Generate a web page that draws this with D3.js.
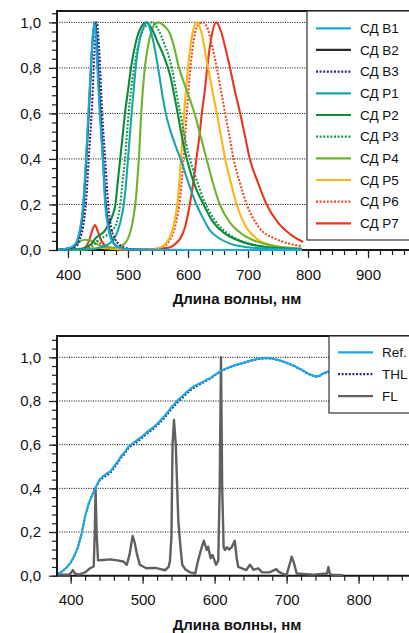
<!DOCTYPE html>
<html>
<head>
<meta charset="utf-8">
<script src="https://cdn.jsdelivr.net/npm/d3@7"></script>
<style>
  body { margin: 0; background: #fff; }
  svg { display: block; font-family: "Liberation Sans", Arial, sans-serif; }
</style>
</head>
<body>
<div id="chart"></div>
<script>
// ---- data: LED spectra (top panel), [wavelength nm, relative intensity]
const ledNames = ["СД В1", "СД В2", "СД В3", "СД Р1", "СД Р2", "СД Р3", "СД Р4", "СД Р5", "СД Р6", "СД Р7"];
const ledColors = ["#1BA9E1", "#2b2b2b", "#2E2A7A", "#1AA6A8", "#0E8A3E", "#129A4A", "#6DB32F", "#FDB515", "#EE4A26", "#E8371E"];
const ledDotted = [false, false, true, false, false, true, false, false, true, false];

const ledB1 = [[380,0],[400,0.008],[410,0.02],[415,0.04],[420,0.09],[425,0.19],[430,0.4],[434,0.6],[438,0.8],[441,0.93],[444,1.0],[447,0.92],[449,0.8],[453,0.6],[458,0.4],[462,0.2],[467,0.1],[473,0.04],[480,0.02],[490,0.008],[500,0.003],[520,0.001],[600,0],[790,0]];
const ledB2 = [[380,0],[400,0.006],[410,0.018],[415,0.035],[420,0.08],[425,0.17],[430,0.37],[435,0.62],[439,0.83],[442,0.95],[445,1.0],[448,0.92],[450,0.8],[454,0.6],[458,0.42],[463,0.2],[468,0.1],[474,0.04],[480,0.02],[490,0.008],[500,0.003],[520,0.001],[600,0],[790,0]];
const ledB3 = [[380,0],[400,0.005],[415,0.02],[420,0.05],[425,0.1],[430,0.21],[435,0.42],[440,0.63],[444,0.86],[448,1.0],[452,0.88],[457,0.6],[462,0.4],[467,0.2],[472,0.1],[478,0.05],[485,0.025],[495,0.01],[510,0.003],[530,0],[790,0]];
const ledP1 = [[380,0],[440,0.003],[455,0.012],[465,0.022],[472,0.035],[480,0.065],[487,0.12],[493,0.2],[497,0.3],[500,0.4],[503,0.5],[506,0.6],[510,0.72],[514,0.83],[520,0.93],[526,0.98],[532,1.0],[538,0.96],[545,0.88],[552,0.77],[558,0.67],[563,0.6],[570,0.53],[579,0.46],[589,0.39],[600,0.3],[614,0.2],[625,0.14],[637,0.085],[650,0.055],[670,0.028],[700,0.012],[740,0.005],[790,0.002]];
const ledP2 = [[380,0],[420,0.004],[430,0.012],[440,0.03],[447,0.055],[453,0.066],[460,0.08],[467,0.11],[474,0.15],[479,0.2],[483,0.3],[487,0.4],[491,0.5],[495,0.6],[500,0.7],[505,0.8],[512,0.9],[520,0.97],[531,1.0],[540,0.97],[550,0.91],[560,0.85],[570,0.77],[580,0.64],[592,0.47],[600,0.38],[612,0.28],[626,0.2],[640,0.13],[660,0.075],[681,0.045],[700,0.028],[730,0.013],[760,0.006],[790,0.003]];
const ledP3 = [[380,0],[430,0.005],[440,0.015],[450,0.04],[460,0.058],[468,0.07],[475,0.09],[481,0.12],[487,0.2],[491,0.3],[495,0.4],[498,0.5],[501,0.6],[505,0.7],[510,0.8],[518,0.91],[528,0.98],[540,1.0],[550,0.97],[560,0.91],[573,0.8],[580,0.7],[587,0.6],[600,0.43],[614,0.31],[628,0.21],[645,0.13],[665,0.075],[690,0.038],[720,0.017],[760,0.007],[790,0.004]];
const ledP4 = [[380,0],[400,0.005],[412,0.02],[420,0.038],[428,0.045],[436,0.043],[445,0.03],[455,0.018],[465,0.012],[475,0.01],[485,0.014],[493,0.025],[500,0.05],[506,0.1],[510,0.16],[513,0.22],[516,0.32],[519,0.44],[522,0.6],[528,0.8],[536,0.93],[544,0.99],[551,1.0],[560,0.985],[570,0.95],[577,0.89],[584,0.81],[598,0.7],[612,0.59],[621,0.5],[631,0.4],[641,0.3],[653,0.2],[670,0.12],[690,0.07],[710,0.042],[730,0.025],[760,0.012],[790,0.006]];
const ledP5 = [[380,0],[430,0.004],[450,0.01],[470,0.006],[500,0.002],[540,0.003],[555,0.012],[565,0.035],[572,0.07],[578,0.13],[583,0.22],[587,0.35],[591,0.5],[595,0.65],[600,0.8],[606,0.93],[614,1.0],[622,0.96],[632,0.82],[640,0.71],[648,0.6],[655,0.5],[662,0.4],[671,0.3],[681,0.2],[695,0.11],[714,0.05],[740,0.02],[770,0.008],[790,0.004]];
const ledP6 = [[380,0],[430,0.005],[440,0.025],[448,0.04],[456,0.025],[470,0.008],[500,0.002],[540,0.002],[555,0.01],[570,0.045],[580,0.12],[587,0.23],[592,0.38],[598,0.6],[604,0.8],[610,0.93],[617,0.99],[625,1.0],[633,0.97],[640,0.9],[648,0.8],[655,0.7],[662,0.6],[669,0.5],[676,0.4],[686,0.3],[698,0.2],[718,0.1],[745,0.05],[770,0.027],[790,0.017]];
const ledP7 = [[380,0],[425,0.005],[435,0.04],[441,0.09],[445,0.11],[450,0.08],[456,0.04],[465,0.015],[480,0.005],[520,0.002],[550,0.005],[570,0.012],[580,0.03],[587,0.05],[595,0.1],[603,0.2],[609,0.3],[614,0.4],[619,0.5],[623,0.6],[628,0.7],[632,0.8],[638,0.92],[647,1.0],[655,0.96],[663,0.88],[670,0.8],[678,0.7],[687,0.6],[695,0.5],[703,0.4],[716,0.3],[731,0.2],[750,0.12],[770,0.07],[792,0.035]];
const ledSpectra = [ledB1, ledB2, ledB3, ledP1, ledP2, ledP3, ledP4, ledP5, ledP6, ledP7];

// ---- data: light sources (bottom panel)
const lampNames = ["Ref.", "THL", "FL"];
const lampColors = ["#1BA9E1", "#2E2A7A", "#606060"];
const lampDotted = [false, true, false];

const lampRef = [[381,0.01],[385,0.012],[390,0.025],[395,0.04],[400,0.06],[405,0.09],[410,0.13],[415,0.19],[420,0.27],[425,0.33],[430,0.37],[434,0.4],[440,0.44],[445,0.455],[450,0.468],[455,0.478],[460,0.5],[465,0.522],[470,0.548],[475,0.565],[480,0.59],[485,0.603],[490,0.615],[495,0.628],[500,0.64],[505,0.655],[510,0.668],[515,0.68],[520,0.695],[525,0.712],[530,0.73],[535,0.75],[540,0.772],[545,0.79],[550,0.808],[555,0.822],[560,0.838],[565,0.852],[570,0.865],[575,0.874],[580,0.882],[585,0.89],[590,0.9],[595,0.907],[600,0.92],[605,0.93],[610,0.94],[620,0.955],[630,0.966],[640,0.975],[650,0.985],[660,0.993],[670,0.997],[680,0.995],[690,0.987],[700,0.975],[710,0.962],[720,0.945],[730,0.925],[740,0.913],[745,0.915],[750,0.925],[757,0.935],[765,0.93],[775,0.935],[790,0.93]];
const lampTHL = [[381,0.01],[385,0.012],[390,0.025],[395,0.04],[400,0.06],[405,0.09],[410,0.13],[415,0.19],[420,0.27],[425,0.33],[430,0.37],[434,0.4],[440,0.435],[445,0.448],[450,0.46],[455,0.47],[460,0.492],[465,0.515],[470,0.54],[475,0.558],[480,0.583],[485,0.597],[490,0.608],[495,0.62],[500,0.633],[505,0.648],[510,0.66],[515,0.673],[520,0.688],[525,0.704],[530,0.722],[535,0.742],[540,0.763],[545,0.781],[550,0.799],[555,0.814],[560,0.83],[565,0.845],[570,0.858],[575,0.868],[580,0.877],[585,0.886],[590,0.896],[595,0.904],[600,0.917],[605,0.928],[610,0.938],[620,0.953],[630,0.965],[640,0.974],[650,0.984],[660,0.992],[670,0.996],[680,0.994],[690,0.986],[700,0.974],[710,0.96],[720,0.943],[730,0.923],[740,0.911],[745,0.913],[750,0.923],[757,0.933],[765,0.929],[775,0.933],[790,0.929]];
const lampFL = [[381,0.005],[398,0.005],[401,0.015],[403,0.026],[406,0.01],[411,0.005],[420,0.015],[427,0.034],[432,0.042],[433.5,0.2],[434.6,0.4],[436,0.2],[438,0.07],[445,0.072],[455,0.075],[465,0.07],[473,0.065],[478,0.05],[482,0.1],[486,0.182],[489,0.15],[492,0.1],[496,0.05],[505,0.034],[512,0.035],[519,0.035],[525,0.03],[531,0.025],[536,0.04],[538,0.07],[540,0.18],[541.5,0.6],[543.5,0.713],[546,0.6],[549.5,0.255],[552,0.15],[555,0.05],[559,0.03],[566,0.015],[573,0.01],[577,0.07],[582,0.13],[585,0.16],[589,0.118],[591,0.133],[594.4,0.08],[597,0.095],[602,0.05],[605,0.07],[607,0.4],[608.8,1.0],[610.5,0.4],[612.5,0.13],[614.3,0.118],[617,0.13],[620,0.12],[623.6,0.13],[628,0.16],[630.6,0.08],[632.8,0.04],[644,0.026],[649,0.05],[654,0.027],[660.6,0.034],[666,0.015],[676,0.015],[686,0.03],[688,0.02],[695,0.008],[700,0.004],[704,0.05],[707,0.087],[710,0.06],[714,0.01],[737,0.005],[756,0.01],[758,0.04],[760,0.01],[762,0.005],[778.6,0.002]];
const lampSpectra = [lampRef, lampTHL, lampFL];

// ---- ticks
const topXMajor = [400, 500, 600, 700, 800, 900];
const bottomXMajor = [400, 500, 600, 700, 800];
const yMajor = [0, 0.2, 0.4, 0.6, 0.8, 1.0];
const xTitle = "Длина волны, нм";

const locale = d3.formatLocale({ decimal: ",", thousands: "\u00a0", grouping: [3], currency: ["", ""] });
const formatY = locale.format(".1f");

const W = 409, H = 633;
const svg = d3.select("#chart").append("svg").attr("width", W).attr("height", H);

renderSpectrumChart(svg.append("g"), {
  id: "top",
  left: 57, right: 409, top: 11, bottom: 250,
  xDomain: [381.7, 968.3], yDomain: [0, 1.05],
  xMajor: topXMajor, xMinor: d3.range(400, 961, 20), yMinor: d3.range(0, 1.05, 0.04),
  series: ledSpectra, names: ledNames, colors: ledColors, dotted: ledDotted,
  widths: ledNames.map(() => 2.1),
  curve: d3.curveMonotoneX,
  legend: { x: 307, y: 11, h: 229, rowY: 28.3, rowStep: 21.67, lineX: [316, 351], textX: 360 },
});

renderSpectrumChart(svg.append("g"), {
  id: "bottom",
  left: 57, right: 409, top: 336, bottom: 575.7,
  xDomain: [381, 870], yDomain: [0, 1.0976],
  xMajor: bottomXMajor, xMinor: d3.range(400, 861, 20), yMinor: d3.range(0, 1.09, 0.04),
  series: lampSpectra, names: lampNames, colors: lampColors, dotted: lampDotted,
  widths: [2.1, 2, 2.4],
  curve: d3.curveLinear,
  legend: { x: 329, y: 336, h: 77, rowY: 352.3, rowStep: 21.9, lineX: [338, 373], textX: 382 },
});

function renderSpectrumChart(g, cfg) {
  let x = d3.scaleLinear().domain(cfg.xDomain).range([cfg.left, cfg.right]);
  let y = d3.scaleLinear().domain(cfg.yDomain).range([cfg.bottom, cfg.top]);

  // grid
  g.append("g")
    .selectAll("line")
    .data(yMajor.filter((d) => d > 0))
    .join("line")
    .attr("x1", cfg.left)
    .attr("x2", cfg.right)
    .attr("y1", (d) => y(d))
    .attr("y2", (d) => y(d))
    .attr("stroke", "#000")
    .attr("stroke-width", 1)
    .attr("stroke-dasharray", "1,1.4");

  // axes
  let gx = g.append("g").attr("transform", `translate(0,${cfg.bottom})`);
  gx.append("g")
    .call(d3.axisBottom(x).tickValues(cfg.xMinor).tickSize(5).tickFormat("").tickSizeOuter(0))
    .call((a) => a.select(".domain").remove());
  gx.append("g")
    .call(d3.axisBottom(x).tickValues(cfg.xMajor).tickSize(8).tickPadding(11).tickSizeOuter(0))
    .call((a) => a.select(".domain").remove())
    .call((a) => a.selectAll("text").attr("font-size", 15).attr("fill", "#111").style("font-family", "'Liberation Sans', Arial, sans-serif"));

  let gy = g.append("g").attr("transform", `translate(${cfg.left},0)`);
  gy.append("g")
    .call(d3.axisLeft(y).tickValues(cfg.yMinor).tickSize(5).tickFormat("").tickSizeOuter(0))
    .call((a) => a.select(".domain").remove());
  gy.append("g")
    .call(d3.axisLeft(y).tickValues(yMajor).tickSize(8).tickPadding(8).tickFormat(formatY).tickSizeOuter(0))
    .call((a) => a.select(".domain").remove())
    .call((a) => a.selectAll("text").attr("font-size", 15).attr("fill", "#111").style("font-family", "'Liberation Sans', Arial, sans-serif"));

  g.selectAll(".tick line").attr("stroke", "#222").attr("stroke-width", 1.2);

  // frame: top, left, bottom
  g.append("path")
    .attr("d", `M${cfg.right + 5},${cfg.top}H${cfg.left}V${cfg.bottom}H${cfg.right + 5}`)
    .attr("fill", "none")
    .attr("stroke", "#1a1a1a")
    .attr("stroke-width", 2);

  // curves (first series on top)
  g.append("clipPath")
    .attr("id", `clip-${cfg.id}`)
    .append("rect")
    .attr("x", cfg.left + 1)
    .attr("y", cfg.top)
    .attr("width", cfg.right - cfg.left)
    .attr("height", cfg.bottom - cfg.top + 2);

  let line = d3.line()
    .x((d) => x(d[0]))
    .y((d) => y(d[1]))
    .curve(cfg.curve);

  let order = d3.range(cfg.series.length).reverse();
  g.append("g")
    .attr("clip-path", `url(#clip-${cfg.id})`)
    .selectAll("path")
    .data(order)
    .join("path")
    .attr("d", (i) => line(cfg.series[i]))
    .attr("fill", "none")
    .attr("stroke", (i) => cfg.colors[i])
    .attr("stroke-width", (i) => cfg.widths[i])
    .attr("stroke-dasharray", (i) => (cfg.dotted[i] ? "2,1.6" : null))
    .attr("stroke-linejoin", "round");

  // legend
  let lg = cfg.legend;
  g.append("rect")
    .attr("x", lg.x)
    .attr("y", lg.y)
    .attr("width", W - lg.x + 10)
    .attr("height", lg.h)
    .attr("fill", "#fff")
    .attr("stroke", "#333")
    .attr("stroke-width", 1.2);

  let item = g.append("g")
    .selectAll("g")
    .data(cfg.names)
    .join("g")
    .attr("transform", (d, i) => `translate(0,${lg.rowY + i * lg.rowStep})`);
  item.append("line")
    .attr("x1", lg.lineX[0])
    .attr("x2", lg.lineX[1])
    .attr("stroke", (d, i) => cfg.colors[i])
    .attr("stroke-width", 2.2)
    .attr("stroke-dasharray", (d, i) => (cfg.dotted[i] ? "2,1.6" : null));
  item.append("text")
    .attr("x", lg.textX)
    .attr("dy", "0.35em")
    .attr("font-size", 13.5)
    .attr("fill", "#111")
    .text((d) => d);

  // axis title
  g.append("text")
    .attr("x", 237)
    .attr("y", cfg.bottom + 54)
    .attr("text-anchor", "middle")
    .attr("font-size", 15)
    .attr("font-weight", "bold")
    .attr("fill", "#111")
    .text(xTitle);
}
</script>
</body>
</html>
